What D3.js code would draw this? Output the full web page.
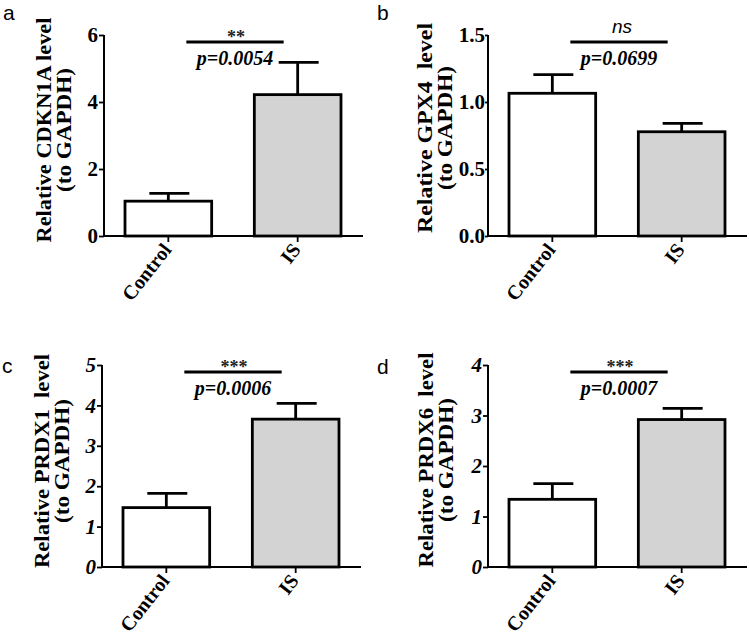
<!DOCTYPE html>
<html><head><meta charset="utf-8">
<script src="https://cdn.jsdelivr.net/npm/d3@7"></script>
<style>body{margin:0;background:#fff}svg{display:block}</style>
</head><body>
<svg id="c" width="749" height="639"></svg>
<script>
// ---- data ----
const categories = ["Control", "IS"];
const cdkn1aMean = [1.04, 4.22];
const cdkn1aSem  = [0.23, 0.96];
const gpx4Mean   = [1.065, 0.778];
const gpx4Sem    = [0.14, 0.062];
const prdx1Mean  = [1.47, 3.66];
const prdx1Sem   = [0.35, 0.39];
const prdx6Mean  = [1.34, 2.92];
const prdx6Sem   = [0.31, 0.22];
const panelLetters = ["a", "b", "c", "d"];
const yLabels = ["Relative CDKN1A level", "Relative GPX4  level", "Relative PRDX1  level", "Relative PRDX6  level"];
const yLabel2 = "(to GAPDH)";
const yMaxes = [6, 1.5, 5, 4];
const tickA = [0, 2, 4, 6];
const tickB = [0, 0.5, 1.0, 1.5];
const tickC = [0, 1, 2, 3, 4, 5];
const tickD = [0, 1, 2, 3, 4];
const sigMarks = ["**", "ns", "***", "***"];
const pValues = ["p=0.0054", "p=0.0699", "p=0.0006", "p=0.0007"];

const panels = [
  {mean: cdkn1aMean, sem: cdkn1aSem, ticks: tickA, fmt: d3.format("d"), italicTicks: false, ax: 104, top: 35, bot: 236, letterX: 3, letterY: 20, lab1: 225, mid: 130, lx: 53, tk: 5, tp: 1},
  {mean: gpx4Mean, sem: gpx4Sem, ticks: tickB, fmt: d3.format(".1f"), italicTicks: false, ax: 488, top: 35, bot: 236, letterX: 377, letterY: 20, lab1: 210, mid: 128, lx: 56, tk: 3, tp: 0},
  {mean: prdx1Mean, sem: prdx1Sem, ticks: tickC, fmt: d3.format("d"), italicTicks: true, ax: 102, top: 365, bot: 567, letterX: 2, letterY: 373, lab1: 214, mid: 461, lx: 53, tk: 5, tp: 1},
  {mean: prdx6Mean, sem: prdx6Sem, ticks: tickD, fmt: d3.format("d"), italicTicks: true, ax: 488, top: 365, bot: 567, letterX: 377, letterY: 374, lab1: 215, mid: 460, lx: 55, tk: 5, tp: 1}
];

const svg = d3.select("#c");
const serif = "'Liberation Serif','Times New Roman',serif";
const sans = "'Liberation Sans',Arial,sans-serif";
const fills = ["#ffffff", "#d3d3d3"];

panels.forEach((p, i) => {
  const g = svg.append("g");
  const y = d3.scaleLinear().domain([0, yMaxes[i]]).range([p.bot, p.top]);
  const x = d3.scaleBand().domain(categories).range([p.ax + 21, p.ax + 237]).paddingInner(0.33).paddingOuter(0);
  const cx = c => x(c) + x.bandwidth() / 2;

  // bars
  g.selectAll("rect.bar").data(categories).enter().append("rect")
    .attr("x", c => x(c)).attr("width", x.bandwidth())
    .attr("y", (c, j) => y(p.mean[j])).attr("height", (c, j) => y(0) - y(p.mean[j]))
    .attr("fill", (c, j) => fills[j]).attr("stroke", "#000").attr("stroke-width", 2.8);

  // error bars
  categories.forEach((c, j) => {
    const hi = p.mean[j] + p.sem[j];
    g.append("line").attr("x1", cx(c)).attr("x2", cx(c)).attr("y1", y(p.mean[j])).attr("y2", y(hi))
      .attr("stroke", "#000").attr("stroke-width", 2.8);
    g.append("line").attr("x1", cx(c) - 19).attr("x2", cx(c) + 21).attr("y1", y(hi)).attr("y2", y(hi))
      .attr("stroke", "#000").attr("stroke-width", 2.8);
  });

  // y axis
  const yAxis = d3.axisLeft(y).tickValues(p.ticks).tickFormat(p.fmt).tickSize(p.tk).tickPadding(p.tp);
  const ya = g.append("g").attr("transform", `translate(${p.ax},0)`).call(yAxis);
  ya.select(".domain").attr("stroke-width", 2).attr("d", `M0,${p.top}V${p.bot}`);
  ya.selectAll(".tick line").attr("stroke-width", 1.8);
  ya.selectAll(".tick text").attr("font-family", serif).attr("font-weight", "bold")
    .attr("font-style", p.italicTicks ? "italic" : "normal").attr("font-size", 21).attr("fill", "#000");

  // x axis
  const xAxis = d3.axisBottom(x).tickSize(6).tickSizeOuter(0).tickFormat("");
  const xa = g.append("g").attr("transform", `translate(0,${p.bot})`).call(xAxis);
  xa.select(".domain").attr("stroke-width", 2).attr("d", `M${p.ax},0H${p.ax + 259}`);
  xa.selectAll(".tick line").attr("stroke-width", 1.8);
  categories.forEach(c => {
    g.append("text").attr("transform", `translate(${cx(c) + 4},${p.bot + 14}) rotate(-52)`)
      .attr("text-anchor", "end").attr("font-family", serif).attr("font-weight", "bold")
      .attr("font-size", 20).text(c);
  });

  // y label
  g.append("text").attr("transform", `translate(${p.ax - p.lx},${p.mid}) rotate(-90)`)
    .attr("text-anchor", "middle").attr("font-family", serif).attr("font-weight", "bold")
    .attr("font-size", 22).style("white-space", "pre")
    .attr("textLength", p.lab1).attr("lengthAdjust", "spacingAndGlyphs").text(yLabels[i]);
  g.append("text").attr("transform", `translate(${p.ax - p.lx + 20},${p.mid}) rotate(-90)`)
    .attr("text-anchor", "middle").attr("font-family", serif).attr("font-weight", "bold")
    .attr("font-size", 22).attr("textLength", 124).attr("lengthAdjust", "spacingAndGlyphs").text(yLabel2);

  // significance
  const x1 = cx(categories[0]) + 18, x2 = cx(categories[1]) - 14, ly = p.top + 7;
  g.append("line").attr("x1", x1).attr("x2", x2).attr("y1", ly).attr("y2", ly)
    .attr("stroke", "#000").attr("stroke-width", 3);
  const mid = (x1 + x2) / 2;
  if (sigMarks[i] === "ns") {
    g.append("text").attr("x", mid + 3).attr("y", ly - 9).attr("text-anchor", "middle")
      .attr("font-family", sans).attr("font-style", "italic").attr("font-size", 19).text(sigMarks[i]);
  } else {
    g.append("text").attr("x", mid + 1).attr("y", ly + 1).attr("text-anchor", "middle")
      .attr("font-family", serif).attr("font-weight", "bold").attr("font-size", 18).attr("fill", "#222").text(sigMarks[i]);
  }
  g.append("text").attr("x", mid).attr("y", ly + 23).attr("text-anchor", "middle")
    .attr("font-family", serif).attr("font-weight", "bold").attr("font-style", "italic")
    .attr("font-size", 20).text(pValues[i]);

  // panel letter
  svg.append("text").attr("x", p.letterX).attr("y", p.letterY)
    .attr("font-family", sans).attr("font-size", 21).text(panelLetters[i]);
});
</script>
</body></html>
